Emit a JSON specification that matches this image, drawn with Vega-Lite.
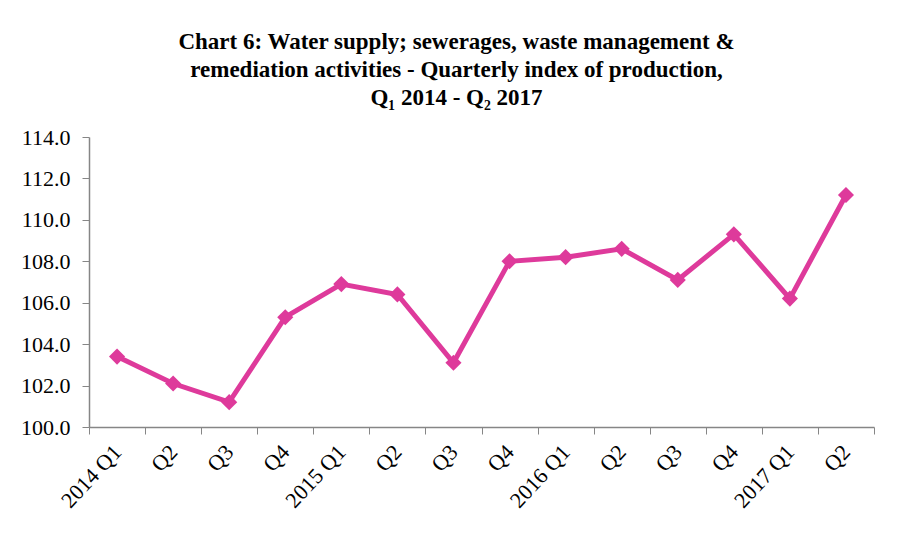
{
  "$schema": "https://vega.github.io/schema/vega-lite/v6.json",
  "width": 785,
  "height": 290,
  "autosize": {"type": "none"},
  "padding": {"left": 89, "top": 137, "right": 25, "bottom": 123},
  "background": "white",
  "title": {
    "text": ["Chart 6: Water supply; sewerages, waste management &", "remediation activities - Quarterly index of production,", "Q₁ 2014 - Q₂ 2017"],
    "font": "Liberation Serif",
    "fontSize": 23,
    "fontWeight": "bold",
    "color": "black",
    "lineHeight": 28,
    "anchor": "middle",
    "dx": -25,
    "offset": 16
  },
  "data": {
    "values": [
      {"i": 0, "label": "2014 Q1", "value": 103.4},
      {"i": 1, "label": "Q2", "value": 102.1},
      {"i": 2, "label": "Q3", "value": 101.2},
      {"i": 3, "label": "Q4", "value": 105.3},
      {"i": 4, "label": "2015 Q1", "value": 106.9},
      {"i": 5, "label": "Q2", "value": 106.4},
      {"i": 6, "label": "Q3", "value": 103.1},
      {"i": 7, "label": "Q4", "value": 108.0},
      {"i": 8, "label": "2016 Q1", "value": 108.2},
      {"i": 9, "label": "Q2", "value": 108.6},
      {"i": 10, "label": "Q3", "value": 107.1},
      {"i": 11, "label": "Q4", "value": 109.3},
      {"i": 12, "label": "2017 Q1", "value": 106.2},
      {"i": 13, "label": "Q2", "value": 111.2}
    ]
  },
  "encoding": {
    "x": {
      "field": "i",
      "type": "ordinal",
      "bandPosition": 0.5,
      "scale": {"type": "band", "paddingInner": 0, "paddingOuter": 0},
      "axis": {
        "title": null,
        "labelExpr": "['2014 Q1','Q2','Q3','Q4','2015 Q1','Q2','Q3','Q4','2016 Q1','Q2','Q3','Q4','2017 Q1','Q2'][datum.value]",
        "labelAngle": -47,
        "labelAlign": "right",
        "labelBaseline": "middle",
        "labelPadding": 14,
        "labelFont": "Liberation Serif",
        "labelFontSize": 22,
        "labelColor": "black",
        "tickBand": "extent",
        "tickSize": 7,
        "tickColor": "#868686",
        "domainColor": "#868686",
        "domainWidth": 1.5,
        "grid": false
      }
    },
    "y": {
      "field": "value",
      "type": "quantitative",
      "scale": {"domain": [100, 114], "nice": false, "zero": false},
      "axis": {
        "title": null,
        "values": [100, 102, 104, 106, 108, 110, 112, 114],
        "format": ".1f",
        "labelFont": "Liberation Serif",
        "labelFontSize": 22,
        "labelColor": "black",
        "labelPadding": 12,
        "tickSize": 7,
        "tickColor": "#868686",
        "domainColor": "#868686",
        "domainWidth": 1.5,
        "grid": false
      }
    }
  },
  "layer": [
    {"mark": {"type": "line", "color": "#DE3A9B", "strokeWidth": 5}},
    {"mark": {"type": "point", "shape": "diamond", "filled": true, "opacity": 1, "color": "#DE3A9B", "size": 260}}
  ],
  "config": {"view": {"stroke": null}}
}
